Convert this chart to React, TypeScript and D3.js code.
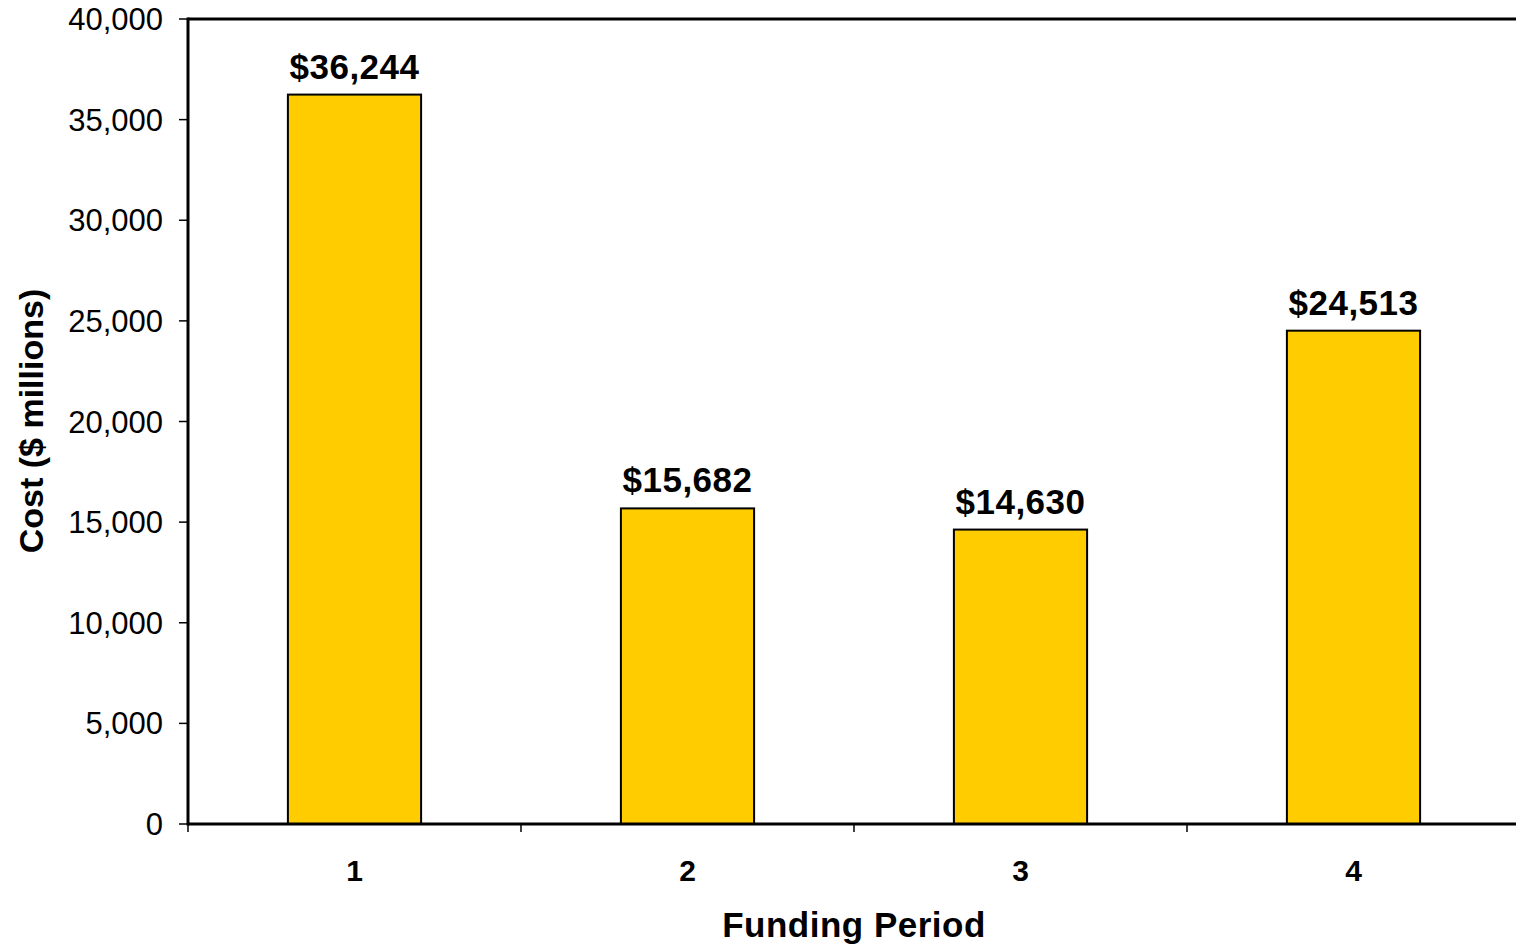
import { useEffect, useRef } from 'react';
import * as d3 from "d3";

const periods = ["1", "2", "3", "4"];
const costs = [36244, 15682, 14630, 24513];
const yTicks = [0, 5000, 10000, 15000, 20000, 25000, 30000, 35000, 40000];

export default function App() {
  const chartRef = useRef<SVGSVGElement>(null);

  useEffect(() => {
    if (!chartRef.current) return;
    const svg = d3.select(chartRef.current);
    svg.selectAll("*").remove();

    const width = 1516;
    const height = 944;
    const left = 188;
    const right = 1520;
    const top = 19;
    const bottom = 824;
    const font = "'Liberation Sans', Arial, sans-serif";

    const x = d3.scaleBand()
      .domain(periods)
      .range([left, right])
      .paddingInner(0.6)
      .paddingOuter(0.3);

    const y = d3.scaleLinear()
      .domain([0, 40000])
      .range([bottom, top]);

    svg.attr("width", width).attr("height", height);

    // Bars
    svg.append("g")
      .selectAll("rect")
      .data(costs)
      .join("rect")
      .attr("x", (_, i) => x(periods[i]) || 0)
      .attr("y", d => y(d))
      .attr("width", x.bandwidth())
      .attr("height", d => y(0) - y(d))
      .attr("fill", "#FFCC00")
      .attr("stroke", "#000")
      .attr("stroke-width", 2);

    // Value labels
    svg.append("g")
      .selectAll("text")
      .data(costs)
      .join("text")
      .attr("x", (_, i) => (x(periods[i]) || 0) + x.bandwidth() / 2)
      .attr("y", d => y(d) - 16)
      .attr("text-anchor", "middle")
      .style("font-family", font)
      .style("font-weight", "bold")
      .style("font-size", "35px")
      .style("letter-spacing", "0.5px")
      .text(d => "$" + d3.format(",")(d));

    // Frame lines
    svg.append("line")
      .attr("x1", left).attr("x2", left).attr("y1", top - 1.5).attr("y2", bottom + 1.5)
      .attr("stroke", "#000").attr("stroke-width", 3);
    svg.append("line")
      .attr("x1", left).attr("x2", right).attr("y1", top).attr("y2", top)
      .attr("stroke", "#000").attr("stroke-width", 3);
    svg.append("line")
      .attr("x1", left).attr("x2", right).attr("y1", bottom).attr("y2", bottom)
      .attr("stroke", "#000").attr("stroke-width", 3);

    // Y ticks
    const yg = svg.append("g");
    yg.selectAll("line")
      .data(yTicks)
      .join("line")
      .attr("x1", 179).attr("x2", left)
      .attr("y1", d => y(d)).attr("y2", d => y(d))
      .attr("stroke", "#000").attr("stroke-width", 1.5);
    yg.selectAll("text")
      .data(yTicks)
      .join("text")
      .attr("x", 163)
      .attr("y", d => y(d) + 11)
      .attr("text-anchor", "end")
      .style("font-family", font)
      .style("font-size", "31px")
      .text(d => d3.format(",")(d));

    // X ticks at category boundaries
    const bounds = periods.map((p) => (x(p) || 0) - x.step() * 0.3);
    svg.append("g")
      .selectAll("line")
      .data(bounds)
      .join("line")
      .attr("x1", d => d).attr("x2", d => d)
      .attr("y1", bottom).attr("y2", bottom + 8)
      .attr("stroke", "#000").attr("stroke-width", 1.5);

    svg.append("g")
      .selectAll("text")
      .data(periods)
      .join("text")
      .attr("x", d => (x(d) || 0) + x.bandwidth() / 2)
      .attr("y", 881)
      .attr("text-anchor", "middle")
      .style("font-family", font)
      .style("font-weight", "bold")
      .style("font-size", "30px")
      .text(d => d);

    // Axis titles
    svg.append("text")
      .attr("x", 854)
      .attr("y", 937)
      .attr("text-anchor", "middle")
      .style("font-family", font)
      .style("font-weight", "bold")
      .style("font-size", "35px")
      .style("letter-spacing", "0.5px")
      .text("Funding Period");

    svg.append("text")
      .attr("transform", "translate(43,421) rotate(-90)")
      .attr("text-anchor", "middle")
      .style("font-family", font)
      .style("font-weight", "bold")
      .style("font-size", "34px")
      .text("Cost ($ millions)");
  }, []);

  return (
    <svg ref={chartRef} style={{ position: "absolute", left: 0, top: 0, display: "block", background: "#fff" }}></svg>
  );
}
